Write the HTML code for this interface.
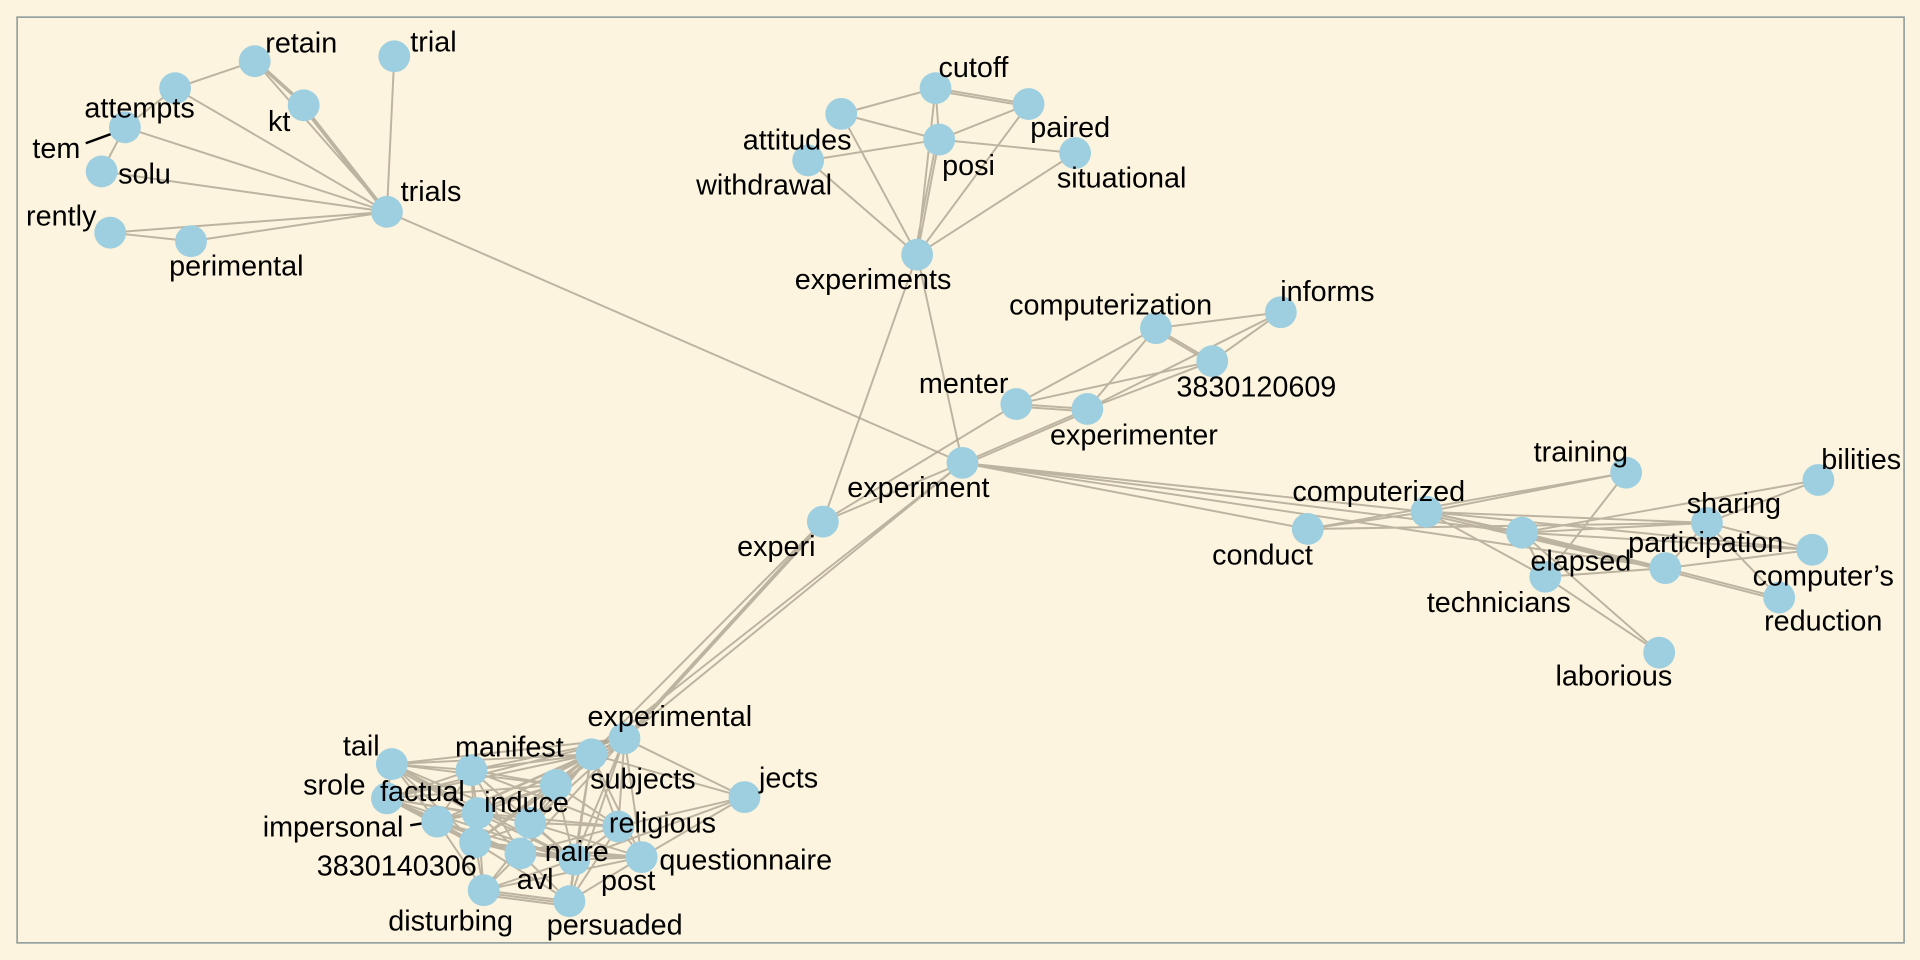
<!DOCTYPE html>
<html><head><meta charset="utf-8"><style>
html,body{margin:0;padding:0;background:#FCF4DE;}
svg{display:block}
text{font-family:"Liberation Sans",Arial,sans-serif;font-size:23.5px;fill:#000;text-anchor:middle}
</style></head><body>
<svg width="1920" height="960" viewBox="0 0 1568 784" preserveAspectRatio="none" xmlns="http://www.w3.org/2000/svg">
<rect x="0" y="0" width="1568" height="784" fill="#FCF4DE"/>
<rect x="14" y="14" width="1541" height="756" fill="none" stroke="#8C9C9C" stroke-width="1.3"/>
<g fill="none" stroke="#ADA391" stroke-opacity="0.8" stroke-width="1.6">
<path d="M316 173L143 72M316 173L208 50M316 173L248 86M314 173L246 86M316 173L322 46M316 173L102 104M316 173L83 140M316 173L90 190M316 173L156 197M143 72L208 50M208 50L248 86M210 50L250 86M102 104L83 140M102 104L143 72M90 190L156 197M316 173L786 378"/>
<path d="M749 208L687 93M749 208L764 72M749 208L840 85M749 208L767 114M747 208L765 114M749 208L660 131M749 208L878 125M687 93L764 72M687 93L767 114M764 72L840 85M764 74L840 87M764 72L767 114M767 114L840 85M767 114L878 125M660 131L767 114M749 208L672 426M749 208L786 378"/>
<path d="M944 268L1046 255M944 268L990 295M944 270L990 297M944 268L830 330M944 268L888 334M990 295L1046 255M990 295L830 330M990 295L888 334M888 334L1046 255M830 330L888 334M830 332L888 336M830 330L672 426M888 334L786 378M888 336L786 380M786 378L672 426"/>
<path d="M786 378L1165 418M786 378L1068 432M786 378L1243 435M786 378L1360 464M1165 418L1328 386M1165 418L1394 427M1165 418L1243 435M1165 418L1262 471M1165 418L1360 464M1165 420L1360 466M1165 418L1480 449M1068 432L1165 418M1068 432L1394 427M1068 432L1328 386M1243 435L1394 427M1243 435L1485 392M1243 435L1360 464M1243 437L1360 466M1243 435L1480 449M1243 435L1262 471M1243 435L1355 533M1262 471L1328 386M1262 471L1360 464M1262 471L1355 533M1360 464L1480 449M1360 464L1453 488M1360 466L1453 490M1394 427L1485 392M1394 427L1480 449M1394 427L1453 488M1360 464L1394 427"/>
<path d="M786 378L510 603M672 426L510 603M672 426L483 616M674 426L512 603M786 378L483 616"/>
<path d="M320 624L385 629M320 624L483 616M320 624L510 603M320 624L454 641M320 624L390 664M320 624L357 671M320 624L388 688M320 624L433 672M320 624L469 702M320 624L316 652M385 629L483 616M385 629L510 603M385 629L454 641M385 629L390 664M385 629L357 671M385 629L388 688M385 629L425 697M385 629L316 652M385 629L469 702M385 629L505 675M510 603L483 616M510 603L454 641M510 603L608 651M510 603L505 675M510 603L524 700M510 603L469 702M510 603L433 672M510 603L388 688M510 603L390 664M510 603L357 671M510 603L316 652M510 603L465 736M510 603L425 697M483 616L454 641M483 616L608 651M483 616L505 675M483 616L469 702M483 616L524 700M483 616L433 672M483 616L390 664M483 616L388 688M483 616L357 671M483 616L316 652M483 616L465 736M483 616L395 727M454 641L433 672M454 641L505 675M454 641L469 702M454 641L390 664M454 641L388 688M454 641L357 671M454 641L316 652M608 651L505 675M608 651L469 702M608 651L524 700M316 652L357 671M316 652L390 664M316 652L388 688M316 652L425 697M316 652L469 702M316 652L433 672M357 671L390 664M357 671L388 688M357 671L425 697M357 671L395 727M357 671L469 702M390 664L433 672M390 664L388 688M390 664L425 697M390 664L469 702M390 664L505 675M390 664L395 727M433 672L388 688M433 672L425 697M433 672L469 702M433 672L505 675M433 672L524 700M505 675L469 702M505 675L524 700M505 675L425 697M505 675L465 736M388 688L425 697M388 688L395 727M388 688L469 702M388 688L465 736M388 688L524 700M425 697L469 702M425 697L395 727M425 697L465 736M425 697L524 700M469 702L524 700M469 702L465 736M469 702L395 727M395 727L465 736M395 729L465 738M395 731L465 740M395 727L524 700M465 736L524 700M316 652L388 690M320 626L390 666"/>
</g>
<path d="M70 117L100 106M335 674L354 671M370 653L389 664" stroke="#000" stroke-width="2"/>
<g fill="#9ECFE1">
<circle cx="208" cy="50" r="13"/><circle cx="322" cy="46" r="13"/><circle cx="143" cy="72" r="13"/><circle cx="248" cy="86" r="13"/><circle cx="102" cy="104" r="13"/><circle cx="83" cy="140" r="13"/><circle cx="316" cy="173" r="13"/><circle cx="90" cy="190" r="13"/><circle cx="156" cy="197" r="13"/>
<circle cx="764" cy="72" r="13"/><circle cx="687" cy="93" r="13"/><circle cx="840" cy="85" r="13"/><circle cx="767" cy="114" r="13"/><circle cx="660" cy="131" r="13"/><circle cx="878" cy="125" r="13"/><circle cx="749" cy="208" r="13"/>
<circle cx="944" cy="268" r="13"/><circle cx="1046" cy="255" r="13"/><circle cx="990" cy="295" r="13"/><circle cx="830" cy="330" r="13"/><circle cx="888" cy="334" r="13"/><circle cx="786" cy="378" r="13"/><circle cx="672" cy="426" r="13"/>
<circle cx="1328" cy="386" r="13"/><circle cx="1485" cy="392" r="13"/><circle cx="1165" cy="418" r="13"/><circle cx="1394" cy="427" r="13"/><circle cx="1068" cy="432" r="13"/><circle cx="1243" cy="435" r="13"/><circle cx="1262" cy="471" r="13"/><circle cx="1360" cy="464" r="13"/><circle cx="1480" cy="449" r="13"/><circle cx="1453" cy="488" r="13"/><circle cx="1355" cy="533" r="13"/>
<circle cx="320" cy="624" r="13"/><circle cx="385" cy="629" r="13"/><circle cx="510" cy="603" r="13"/><circle cx="483" cy="616" r="13"/><circle cx="454" cy="641" r="13"/><circle cx="608" cy="651" r="13"/><circle cx="316" cy="652" r="13"/><circle cx="357" cy="671" r="13"/><circle cx="390" cy="664" r="13"/><circle cx="433" cy="672" r="13"/><circle cx="505" cy="675" r="13"/><circle cx="388" cy="688" r="13"/><circle cx="425" cy="697" r="13"/><circle cx="469" cy="702" r="13"/><circle cx="524" cy="700" r="13"/><circle cx="395" cy="727" r="13"/><circle cx="465" cy="736" r="13"/>
</g>
<g>
<text x="246" y="43">retain</text><text x="354" y="42">trial</text><text x="114" y="96">attempts</text><text x="228" y="107">kt</text><text x="46" y="129">tem</text><text x="118" y="150">solu</text><text x="352" y="164">trials</text><text x="50" y="184">rently</text><text x="193" y="225">perimental</text>
<text x="795" y="63">cutoff</text><text x="651" y="122">attitudes</text><text x="874" y="112">paired</text><text x="791" y="143">posi</text><text x="624" y="159">withdrawal</text><text x="916" y="153">situational</text><text x="713" y="236">experiments</text>
<text x="907" y="257">computerization</text><text x="1084" y="246">informs</text><text x="1026" y="324">3830120609</text><text x="787" y="321">menter</text><text x="926" y="363">experimenter</text><text x="750" y="406">experiment</text><text x="634" y="454">experi</text>
<text x="1291" y="377">training</text><text x="1520" y="383">bilities</text><text x="1126" y="409">computerized</text><text x="1416" y="419">sharing</text><text x="1031" y="461">conduct</text><text x="1393" y="451">participation</text><text x="1291" y="466">elapsed</text><text x="1489" y="478">computer’s</text><text x="1224" y="500">technicians</text><text x="1489" y="515">reduction</text><text x="1318" y="560">laborious</text>
<text x="547" y="593">experimental</text><text x="295" y="617">tail</text><text x="416" y="618">manifest</text><text x="525" y="644">subjects</text><text x="644" y="643">jects</text><text x="273" y="649">srole</text><text x="345" y="654">factual</text><text x="430" y="663">induce</text><text x="272" y="683">impersonal</text><text x="541" y="680">religious</text><text x="471" y="703">naire</text><text x="324" y="715">3830140306</text><text x="609" y="710">questionnaire</text><text x="437" y="726">avl</text><text x="513" y="727">post</text><text x="368" y="760">disturbing</text><text x="502" y="763">persuaded</text>
</g>
</svg>
</body></html>
